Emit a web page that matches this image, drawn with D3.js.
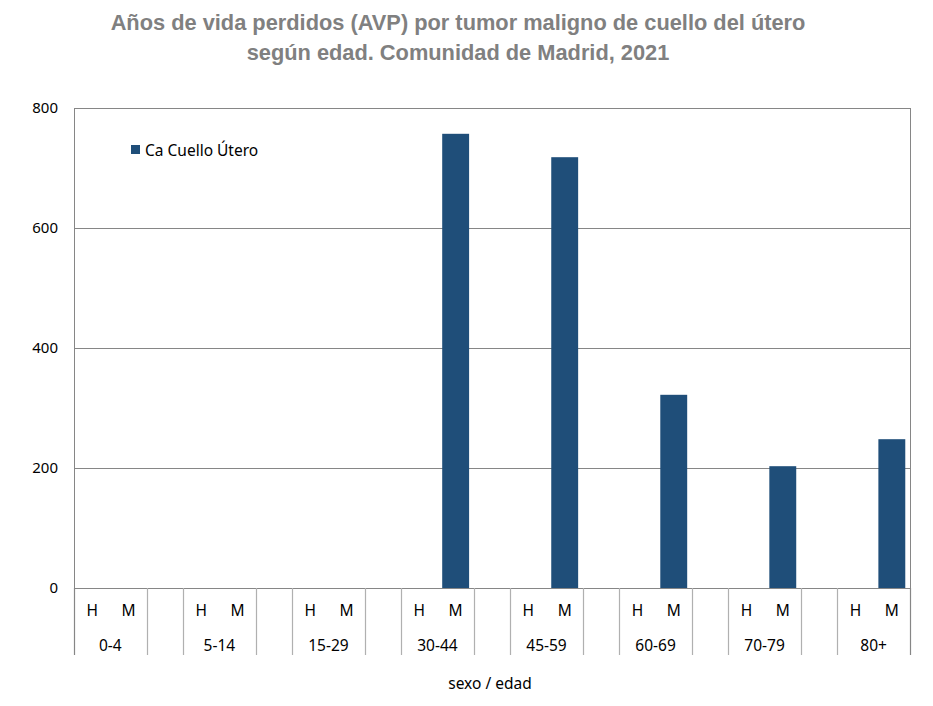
<!DOCTYPE html>
<html>
<head>
<meta charset="utf-8">
<script src="https://cdn.jsdelivr.net/npm/d3@7"></script>
<style>
  body { margin: 0; background: #fff; }
  svg { display: block; }
</style>
</head>
<body>
<script>
// data
let ages = ["0-4", "5-14", "15-29", "30-44", "45-59", "60-69", "70-79", "80+"];
let sexes = ["H", "M"];
let valuesH = [0, 0, 0, 0, 0, 0, 0, 0];
let valuesM = [0, 0, 0, 757, 718, 322, 203, 248];
let yTicks = [0, 200, 400, 600, 800];
let seriesName = "Ca Cuello Útero";

let W = 933, H = 706;
let margin = {top: 108, right: 23, bottom: 118, left: 74};
let width = W - margin.left - margin.right;
let height = H - margin.top - margin.bottom;

let svg = d3.select("body").append("svg")
  .attr("width", W)
  .attr("height", H);

// title
let title = svg.append("text")
  .attr("text-anchor", "middle")
  .style("font-family", "'Liberation Sans', Arial, sans-serif")
  .style("font-weight", "bold")
  .style("font-size", "21.8px")
  .style("fill", "#808080");
title.append("tspan").attr("x", 458).attr("y", 30)
  .text("Años de vida perdidos (AVP) por tumor maligno de cuello del útero");
title.append("tspan").attr("x", 458).attr("y", 60)
  .text("según edad. Comunidad de Madrid, 2021");

let g = svg.append("g")
  .attr("transform", "translate(" + margin.left + "," + margin.top + ")");

// slots: H, M, gap for each age group (no gap after last)
let slots = [];
ages.forEach(function(a, i) {
  slots.push(i + "-H");
  slots.push(i + "-M");
  if (i < ages.length - 1) slots.push(i + "-gap");
});

let xScale = d3.scaleBand().domain(slots).range([0, width]).padding(0);
let yScale = d3.scaleLinear().domain([0, 800]).range([height, 0]);

// grid
g.selectAll("line.grid")
  .data(yTicks)
  .enter()
  .append("line")
  .attr("class", "grid")
  .attr("x1", 0)
  .attr("x2", width)
  .attr("y1", function(d){ return yScale(d); })
  .attr("y2", function(d){ return yScale(d); })
  .attr("stroke", "#868686")
  .attr("stroke-width", 1)
  .attr("shape-rendering", "crispEdges");

// plot border
g.append("rect")
  .attr("x", 0).attr("y", 0)
  .attr("width", width).attr("height", height)
  .attr("fill", "none")
  .attr("stroke", "#868686")
  .attr("shape-rendering", "crispEdges");

let labelFont = "'Noto Sans', 'Open Sans', sans-serif";

// y axis labels
let yAxis = d3.axisLeft(yScale).tickValues(yTicks).tickSize(0).tickPadding(16);
let yg = g.append("g").call(yAxis);
yg.select(".domain").remove();
yg.selectAll("text")
  .style("font-family", labelFont)
  .style("font-size", "15px")
  .style("fill", "#000");

// bars
let bars = [];
ages.forEach(function(a, i) {
  bars.push({slot: i + "-H", v: valuesH[i]});
  bars.push({slot: i + "-M", v: valuesM[i]});
});
let bw = xScale.bandwidth() * 0.74;
g.selectAll("rect.bar")
  .data(bars.filter(function(d){ return d.v > 0; }))
  .enter()
  .append("rect")
  .attr("class", "bar")
  .attr("x", function(d){ return xScale(d.slot) + (xScale.bandwidth() - bw) / 2; })
  .attr("width", bw)
  .attr("y", function(d){ return yScale(d.v); })
  .attr("height", function(d){ return height - yScale(d.v); })
  .attr("fill", "#1f4e79");

// category axis: dividers
let divX = [0, width];
ages.forEach(function(a, i) {
  if (i > 0) divX.push(xScale(i + "-H"));
  if (i < ages.length - 1) divX.push(xScale(i + "-gap"));
});
g.selectAll("line.div")
  .data(divX)
  .enter()
  .append("line")
  .attr("class", "div")
  .attr("x1", function(d){ return Math.round(d) + 0.5; })
  .attr("x2", function(d){ return Math.round(d) + 0.5; })
  .attr("y1", height)
  .attr("y2", height + 67)
  .attr("stroke", function(d){ return (d === 0 || d === width) ? "#868686" : "#b0b0b0"; })
  .attr("stroke-width", 1.2);

// H / M labels and age groups
ages.forEach(function(a, i) {
  sexes.forEach(function(s) {
    g.append("text")
      .attr("x", xScale(i + "-" + s) + xScale.bandwidth() / 2)
      .attr("y", height + 28)
      .attr("text-anchor", "middle")
      .style("font-family", labelFont)
      .style("font-size", "15.5px")
      .text(s);
  });
  g.append("text")
    .attr("x", xScale(i + "-M"))
    .attr("y", height + 63)
    .attr("text-anchor", "middle")
    .style("font-family", labelFont)
    .style("font-size", "15.5px")
    .text(a);
});

// axis title
svg.append("text")
  .attr("x", 490)
  .attr("y", 689)
  .attr("text-anchor", "middle")
  .style("font-family", labelFont)
  .style("font-size", "15.5px")
  .text("sexo / edad");

// legend
svg.append("rect")
  .attr("x", 131).attr("y", 145)
  .attr("width", 9).attr("height", 9)
  .attr("fill", "#1f4e79");
svg.append("text")
  .attr("x", 145).attr("y", 155.5)
  .style("font-family", labelFont)
  .style("font-size", "15.5px")
  .text(seriesName);
</script>
</body>
</html>
